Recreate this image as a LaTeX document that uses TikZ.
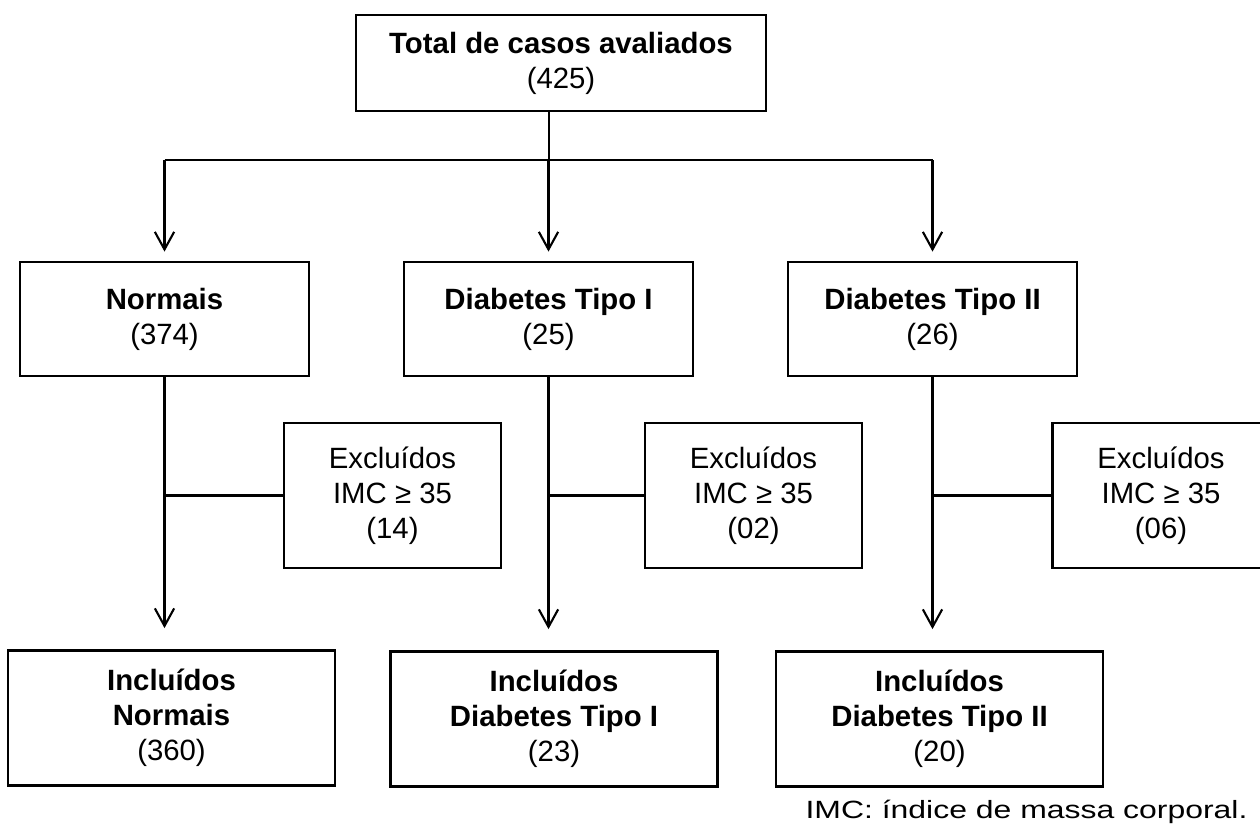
\documentclass[tikz,border=0pt]{standalone}
\usepackage{fontspec}
\setmainfont{Liberation Sans}
\usetikzlibrary{arrows.meta}

\begin{document}
\begin{tikzpicture}[x=0.02cm, y=-0.02cm,
    every node/.style={font=\fontsize{16.7}{20}\selectfont, align=center},
    box/.style={draw, line width=1.6pt, inner sep=0pt},
    topbox/.style={box, minimum width=8.2cm, minimum height=1.92cm},
    grpbox/.style={box, minimum width=5.78cm, minimum height=2.28cm},
    exclbox/.style={box, minimum width=4.34cm, minimum height=2.9cm},
    inclbox/.style={box, minimum width=6.54cm, minimum height=2.7cm},
    link/.style={line width=1.2pt},
    arr/.style={link, -{Straight Barb[length=10pt, width=11pt]}}]
    \clip (0,0) rectangle (1260,825);
    \node[topbox] (total) at (561,63) {\textbf{Total de casos avaliados}\\(425)};
    \node[grpbox] (norm) at (164.5,319) {\textbf{Normais}\\(374)};
    \node[grpbox] (dm1) at (548.5,319) {\textbf{Diabetes Tipo I}\\(25)};
    \node[grpbox] (dm2) at (932.5,319) {\textbf{Diabetes Tipo II}\\(26)};
    \node[exclbox] (exnorm) at (392.5,495.5) {Excluídos\\IMC ≥ 35\\(14)};
    \node[exclbox] (exdm1) at (753.5,495.5) {Excluídos\\IMC ≥ 35\\(02)};
    \node[exclbox] (exdm2) at (1161,495.5) {Excluídos\\IMC ≥ 35\\(06)};
    \node[inclbox] (innorm) at (171.5,718) {\textbf{Incluídos}\\\textbf{Normais}\\(360)};
    \node[inclbox] (indm1) at (554,719) {\textbf{Incluídos}\\\textbf{Diabetes Tipo I}\\(23)};
    \node[inclbox] (indm2) at (939.5,719) {\textbf{Incluídos}\\\textbf{Diabetes Tipo II}\\(20)};
    \node (nota) at (1026.5,812) {\scalebox{1.28}[1]{\fontsize{14.2}{17}\selectfont IMC: índice de massa corporal.}};

    \coordinate (split) at (549,160);
    \draw[link] (total.south -| split) -- (split);
    \draw[link] (norm.north |- split) -- (dm2.north |- split);
    \foreach \g in {norm,dm1,dm2}
      \draw[arr, shorten >=0.18cm] (\g.north |- split) -- (\g.north);
    \foreach \g/\e/\i in {norm/exnorm/innorm, dm1/exdm1/indm1, dm2/exdm2/indm2} {
      \draw[arr, shorten >=0.42cm] (\g.south) -- (\g.south |- \i.north);
      \draw[link] (\e.west) -- (\e.west -| \g.south);
    }
\end{tikzpicture}
\end{document}
